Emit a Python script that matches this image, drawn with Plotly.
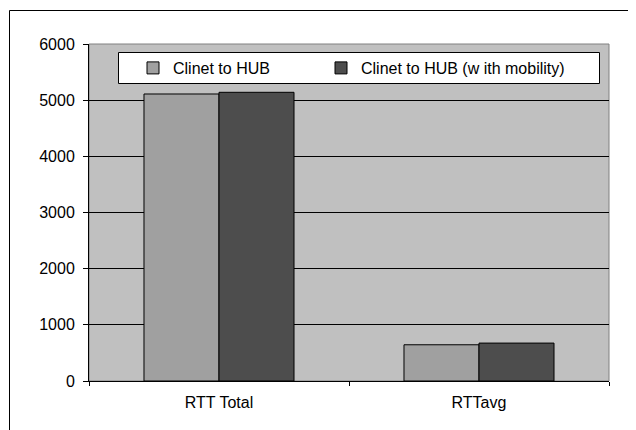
import plotly.graph_objects as go

categories = ["RTT Total", "RTTavg"]
series_names = ["Clinet to HUB", "Clinet to HUB (w ith mobility)"]
values_plain = [5110, 645]
values_mobility = [5140, 675]
y_ticks = [0, 1000, 2000, 3000, 4000, 5000, 6000]

colors = ["#A0A0A0", "#4D4D4D"]
FONT = "Liberation Sans, Arial, sans-serif"

fig = go.Figure()
for i, (name, vals, col) in enumerate(zip(series_names, [values_plain, values_mobility], colors)):
    fig.add_trace(go.Bar(
        x=categories, y=vals, name=name,
        marker=dict(color=col, line=dict(color="black", width=1)),
        legend="legend" if i == 0 else "legend2",
    ))

W, H = 636, 430
L, T, R, B = 81, 36, 35, 57
pw, ph = W - L - R, H - T - B

def px2paper_x(px):
    return (px - L) / pw

def py2paper_y(py):
    return (H - B - py) / ph

shapes = [
    # outer frame
    dict(type="rect", xref="paper", yref="paper",
         x0=px2paper_x(1.5), x1=px2paper_x(660), y0=py2paper_y(460), y1=py2paper_y(2.5),
         line=dict(color="black", width=1), fillcolor="rgba(0,0,0,0)", layer="below"),
    # plot area border (gray top/right)
    dict(type="rect", xref="paper", yref="paper", x0=0, x1=1, y0=0, y1=1,
         line=dict(color="#808080", width=1), fillcolor="rgba(0,0,0,0)", layer="below"),
    # legend box
    dict(type="rect", xref="paper", yref="paper",
         x0=px2paper_x(110.5), x1=px2paper_x(591.5), y0=py2paper_y(75.5), y1=py2paper_y(44.5),
         line=dict(color="black", width=1), fillcolor="white", layer="above"),
]

leg_common = dict(orientation="h", xanchor="left", yanchor="top",
                  bgcolor="rgba(0,0,0,0)", borderwidth=0,
                  font=dict(family=FONT, size=16), itemclick=False, itemdoubleclick=False)

fig.update_layout(
    width=W, height=H,
    margin=dict(l=L, r=R, t=T, b=B, pad=0),
    paper_bgcolor="white", plot_bgcolor="#C0C0C0",
    font=dict(family=FONT, size=16, color="black"),
    barmode="group", bargap=0.423, bargroupgap=0,
    showlegend=True,
    legend=dict(x=px2paper_x(125), y=py2paper_y(43), **leg_common),
    legend2=dict(x=px2paper_x(313), y=py2paper_y(43), **leg_common),
    shapes=shapes,
    xaxis=dict(showline=True, linecolor="black", linewidth=1, ticks="outside", tickson="boundaries",
               ticklen=4, tickcolor="black", showgrid=False, ticklabelstandoff=7),
    yaxis=dict(range=[0, 6000], tickvals=y_ticks, showline=True, linecolor="black", linewidth=1,
               ticks="outside", ticklen=5, tickcolor="black", showgrid=True, gridcolor="black",
               gridwidth=1, zeroline=False, ticklabelstandoff=5),
)

fig.write_html("out.html")
